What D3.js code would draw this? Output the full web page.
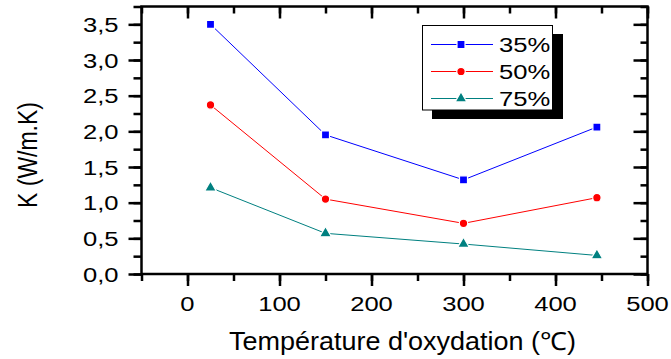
<!DOCTYPE html>
<html><head><meta charset="utf-8">
<script src="https://cdn.jsdelivr.net/npm/d3@7"></script>
<style>
html,body{margin:0;padding:0;background:#fff;}
svg{display:block;font-family:Arial,"Liberation Sans",sans-serif;}
</style></head>
<body>
<svg id="chart" width="671" height="359"></svg>
<script>
const temps = [25, 150, 300, 445];
const seriesNames = ["35%", "50%", "75%"];
const k35 = [3.50, 1.95, 1.32, 2.06];
const k50 = [2.37, 1.05, 0.71, 1.07];
const k75 = [1.21, 0.57, 0.42, 0.26];
const xTicks = [0, 100, 200, 300, 400, 500];
const yTicks = [0, 0.5, 1.0, 1.5, 2.0, 2.5, 3.0, 3.5];
const xTitle = "Température d'oxydation (℃)";
const yTitle = "K (W/m.K)";

const colors = ["#0000ff", "#ff0000", "#008080"];
const shapes = [d3.symbolSquare, d3.symbolCircle, d3.symbolTriangle];
const sizes = [64, 56, 60];
const series = [k35, k50, k75].map((v, i) => ({name: seriesNames[i], values: v, color: colors[i], shape: shapes[i], size: sizes[i]}));

const svg = d3.select("#chart");
const L = 141.5, R = 647.5, T = 6.5, B = 274;
const x = d3.scaleLinear().domain([-50, 500]).range([L, R]);
const y = d3.scaleLinear().domain([0, 3.75]).range([B, T]);
const SX = 1.22; // horizontal stretch of text
const fmt = d => d3.format(".1f")(d).replace(".", ",");

const minorX = d3.range(-50, 501, 50);
const minorY = d3.range(0, 3.76, 0.25);
const aw = 2.5;

function styleAxis(g) {
  g.select(".domain").remove();
  g.selectAll("line").attr("stroke", "#000").attr("stroke-width", aw);
  g.selectAll("text").remove();
}
// bottom
svg.append("g").attr("transform", `translate(0,${B})`)
  .call(d3.axisBottom(x).tickValues(minorX).tickSize(7)).call(styleAxis);
svg.append("g").attr("transform", `translate(0,${B})`)
  .call(d3.axisBottom(x).tickValues(xTicks).tickSize(12)).call(styleAxis);
// top (inward)
svg.append("g").attr("transform", `translate(0,${T})`)
  .call(d3.axisBottom(x).tickValues(minorX).tickSize(7)).call(styleAxis);
svg.append("g").attr("transform", `translate(0,${T})`)
  .call(d3.axisBottom(x).tickValues(xTicks).tickSize(12)).call(styleAxis);
// left
svg.append("g").attr("transform", `translate(${L},0)`)
  .call(d3.axisLeft(y).tickValues(minorY).tickSize(8)).call(styleAxis);
svg.append("g").attr("transform", `translate(${L},0)`)
  .call(d3.axisLeft(y).tickValues(yTicks).tickSize(13)).call(styleAxis);
// right (inward)
svg.append("g").attr("transform", `translate(${R},0)`)
  .call(d3.axisLeft(y).tickValues(minorY).tickSize(7)).call(styleAxis);
svg.append("g").attr("transform", `translate(${R},0)`)
  .call(d3.axisLeft(y).tickValues(yTicks).tickSize(14)).call(styleAxis);

// frame
svg.append("rect").attr("x", L).attr("y", T).attr("width", R - L).attr("height", B - T)
  .attr("fill", "none").attr("stroke", "#000").attr("stroke-width", aw);

// tick labels
svg.append("g").selectAll("text").data(xTicks).join("text")
  .attr("transform", d => `translate(${x(d)},${B + 37}) scale(${SX},1)`)
  .attr("text-anchor", "middle").attr("font-size", 21).attr("fill", "#000")
  .text(d => d);
svg.append("g").selectAll("text").data(yTicks).join("text")
  .attr("transform", d => `translate(${L - 23},${y(d) + 7.5}) scale(${SX},1)`)
  .attr("text-anchor", "end").attr("font-size", 21).attr("fill", "#000")
  .text(fmt);

// axis titles
svg.append("text").attr("transform", `translate(${(228 + 577) / 2},${350}) scale(1.08,1)`)
  .attr("text-anchor", "middle").attr("font-size", 25).attr("fill", "#000").text(xTitle);
svg.append("text").attr("transform", `translate(${37},${155}) scale(${SX},1) rotate(-90)`)
  .attr("text-anchor", "middle").attr("font-size", 23).attr("fill", "#000").text(yTitle);

// data
const line = d3.line().x((d, i) => x(temps[i])).y(d => y(d));
const gData = svg.append("g");
series.forEach(s => {
  gData.append("path").datum(s.values).attr("d", line)
    .attr("fill", "none").attr("stroke", s.color).attr("stroke-width", 1);
  gData.selectAll(null).data(s.values).join("path")
    .attr("transform", (d, i) => `translate(${x(temps[i])},${y(d)})`)
    .attr("d", d3.symbol(s.shape, s.size)).attr("fill", s.color)
    .attr("stroke", "#fff").attr("stroke-width", 1.2);
});

// legend
const lg = svg.append("g");
lg.append("rect").attr("x", 432).attr("y", 34).attr("width", 131).attr("height", 85).attr("fill", "#000");
lg.append("rect").attr("x", 422.5).attr("y", 25.5).attr("width", 130).attr("height", 84.5)
  .attr("fill", "#fff").attr("stroke", "#000").attr("stroke-width", 1);
series.forEach((s, i) => {
  const cy = 44.5 + i * 27;
  lg.append("line").attr("x1", 431).attr("x2", 493).attr("y1", cy).attr("y2", cy)
    .attr("stroke", s.color).attr("stroke-width", 1);
  lg.append("path").attr("transform", `translate(461,${cy})`)
    .attr("d", d3.symbol(s.shape, s.size)).attr("fill", s.color)
    .attr("stroke", "#fff").attr("stroke-width", 1.2);
  lg.append("text").attr("transform", `translate(499,${cy + 7.5}) scale(${SX},1)`)
    .attr("font-size", 21).attr("fill", "#000").text(s.name);
});
</script>
</body></html>
